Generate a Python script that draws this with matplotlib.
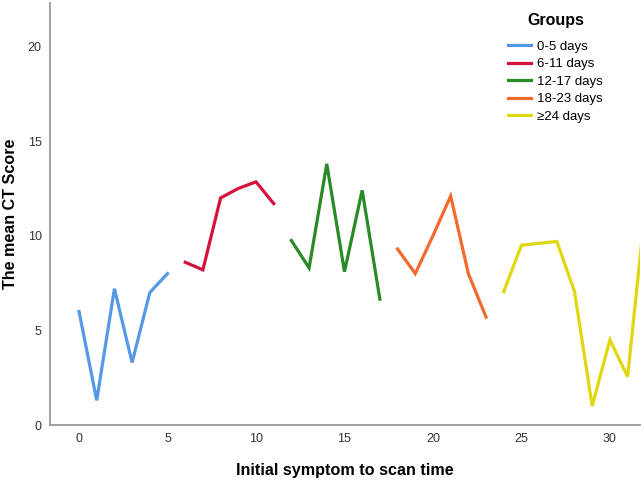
import numpy as np
import matplotlib
matplotlib.use('Agg')
import matplotlib.pyplot as plt

plt.rcParams['font.family'] = ['Liberation Sans', 'DejaVu Sans']

# mean CT score per day, split into the five groups
days_0_5 = [0, 1, 2, 3, 4, 5]
score_0_5 = [6.0, 1.3, 7.2, 3.3, 7.0, 8.0]

days_6_11 = [6, 7, 8, 9, 10, 11]
score_6_11 = [8.6, 8.2, 12.0, 12.5, 12.85, 11.7]

days_12_17 = [12, 13, 14, 15, 16, 17]
score_12_17 = [9.75, 8.3, 13.8, 8.1, 12.4, 6.65]

days_18_23 = [18, 19, 20, 21, 22, 23]
score_18_23 = [9.3, 8.0, 10.0, 12.1, 8.0, 5.7]

# last point sits just past the right edge of the plot and gets clipped
days_24_up = [24, 25, 26, 27, 28, 29, 30, 31, 32]
score_24_up = [7.05, 9.5, 9.6, 9.7, 7.05, 1.0, 4.5, 2.55, 11.5]

group_labels = ['0-5 days', '6-11 days', '12-17 days', '18-23 days', '\u226524 days']
group_colors = ['#5599e6', '#d4123c', '#2a8a25', '#f4692c', '#e0d70e']

fig = plt.figure(figsize=(6.44, 4.8), dpi=100)
ax = fig.add_axes([50 / 644, 55 / 480, 590 / 644, 422 / 480])

series = [(days_0_5, score_0_5), (days_6_11, score_6_11), (days_12_17, score_12_17),
          (days_18_23, score_18_23), (days_24_up, score_24_up)]
for (xs, ys), lab, col in zip(series, group_labels, group_colors):
    ax.plot(xs, ys, color=col, lw=2.3, label=lab, solid_joinstyle='miter')

ax.set_xlim(-1.64, 31.7)
ax.set_ylim(0, 22.3)
ax.set_xticks([0, 5, 10, 15, 20, 25, 30])
ax.set_yticks([0, 5, 10, 15, 20])
ax.tick_params(length=0, labelsize=9, colors='#333333', pad=6)

for s in ['top', 'right']:
    ax.spines[s].set_visible(False)
for s in ['left', 'bottom']:
    ax.spines[s].set_color('#999999')
    ax.spines[s].set_linewidth(1.3)

ax.set_xlabel('Initial symptom to scan time', fontsize=11.6, fontweight='bold', labelpad=13)
ax.set_ylabel('The mean CT Score', fontsize=11.6, fontweight='bold')
ax.yaxis.set_label_coords(-0.054, 0.5)

leg = ax.legend(title='Groups', loc='upper left', bbox_to_anchor=(0.76, 1.0),
                frameon=False, fontsize=9.5, handlelength=1.75, handletextpad=0.4,
                labelspacing=0.4, borderaxespad=0.35)
leg.get_title().set_fontweight('bold')
leg.get_title().set_fontsize(11.5)
leg._legend_box.sep = 9

fig.savefig('out.png', dpi=100)
